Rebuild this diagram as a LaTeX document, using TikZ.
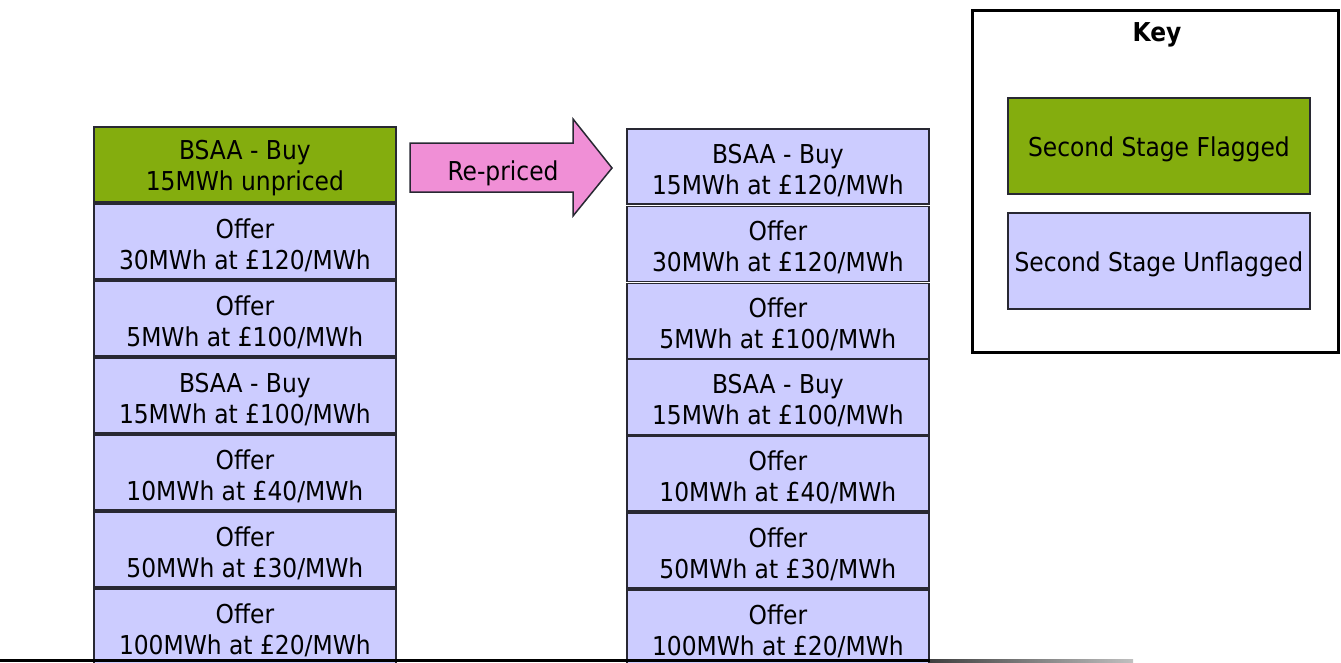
\documentclass[tikz,border=0pt]{standalone}
\usepackage{fontspec}
\setmainfont{DejaVu Sans Condensed}
\definecolor{flagG}{RGB}{132,173,14}
\definecolor{unflag}{RGB}{204,204,255}
\definecolor{pinkA}{RGB}{240,143,214}
\definecolor{edgeC}{RGB}{40,40,50}
\begin{document}
\begin{tikzpicture}[x=1pt,y=-1pt,
  txt/.style={font=\fontsize{26pt}{31pt}\selectfont, align=center, text=black},
  oneline/.style={execute at begin node={\rule{0pt}{26pt}}},
  twoline/.style={execute at begin node={\rule{0pt}{58pt}}},
  bidbox/.style={txt, draw=edgeC, line width=1.8pt, anchor=north west, minimum width=302pt, minimum height=75pt, inner sep=0pt},
  flagged/.style={bidbox, fill=flagG},
  unflagged/.style={bidbox, fill=unflag},
  keyframe/.style={draw=black, line width=3pt}]
\useasboundingbox (0,0) rectangle (1341,662);
\clip (0,0) rectangle (1341,662);
% left stack
\node[flagged, twoline]   (l1) at (93,126) {BSAA - Buy\\15MWh unpriced};
\node[unflagged, twoline] (l2) at (93,203) {Offer\\30MWh at £120/MWh};
\node[unflagged, twoline] (l3) at (93,280) {Offer\\5MWh at £100/MWh};
\node[unflagged, twoline] (l4) at (93,357) {BSAA - Buy\\15MWh at £100/MWh};
\node[unflagged, twoline] (l5) at (93,434) {Offer\\10MWh at £40/MWh};
\node[unflagged, twoline] (l6) at (93,511) {Offer\\50MWh at £30/MWh};
\node[unflagged, twoline] (l7) at (93,588) {Offer\\100MWh at £20/MWh};
% right stack
\node[unflagged, twoline] (r1) at (626,128) {BSAA - Buy\\15MWh at £120/MWh};
\node[unflagged, twoline] (r2) at (626,205.5) {Offer\\30MWh at £120/MWh};
\node[unflagged, twoline] (r3) at (626,282.5) {Offer\\5MWh at £100/MWh};
\node[unflagged, twoline] (r4) at (626,358.5) {BSAA - Buy\\15MWh at £100/MWh};
\node[unflagged, twoline] (r5) at (626,435) {Offer\\10MWh at £40/MWh};
\node[unflagged, twoline] (r6) at (626,512) {Offer\\50MWh at £30/MWh};
\node[unflagged, twoline] (r7) at (626,589) {Offer\\100MWh at £20/MWh};
% block arrow
\draw[draw=edgeC, line width=1.5pt, fill=pinkA, line join=miter]
  (410,143) -- (573,143) -- (573,119) -- (612,168) -- (573,216) -- (573,192) -- (410,192) -- cycle;
\node[txt, oneline] (arrowlabel) at (503,170) {Re-priced};
% key
\draw[keyframe] (972,10) rectangle (1338,352);
\node[txt, oneline, font=\fontsize{26pt}{31pt}\selectfont\bfseries] (keytitle) at (1157,31) {Key};
\node[flagged, oneline, minimum height=96pt] (kf) at (1007,97) {Second Stage Flagged};
\node[unflagged, oneline, minimum height=96pt] (ku) at (1007,212) {Second Stage Unflagged};
% base line
\fill[black] (0,659) rectangle (930,662);
\shade[left color=black!75, right color=black!25] (930,659) rectangle (1133,662);
\end{tikzpicture}
\end{document}
